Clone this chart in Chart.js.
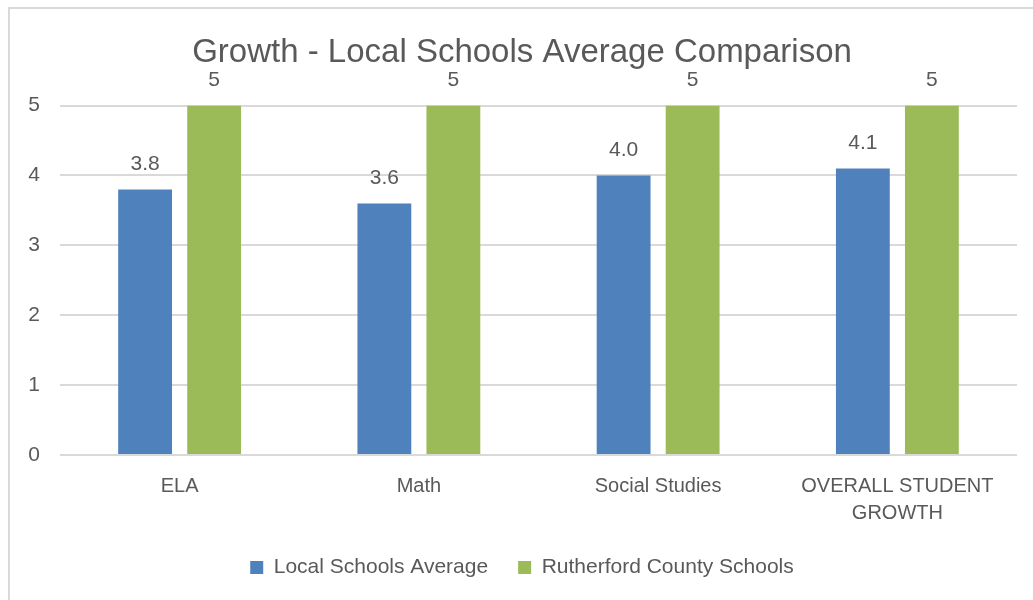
<!DOCTYPE html>
<html>
<head>
<meta charset="utf-8">
<script src="https://cdn.jsdelivr.net/npm/chart.js@4.4.1/dist/chart.umd.min.js"></script>
<style>
  html, body { margin: 0; padding: 0; background: #fff; overflow: hidden; }
  #frame { position: absolute; left: 8px; top: 7px; width: 1100px; height: 700px; border: 2px solid #d9d9d9; box-sizing: border-box; }
  #wrap { position: absolute; left: 0; top: 0; width: 1033px; height: 600px; }
</style>
</head>
<body>
<div id="frame"></div>
<div id="wrap"><canvas id="c" width="1033" height="600"></canvas></div>
<script>
const categories = ["ELA", "Math", "Social Studies", ["OVERALL STUDENT", "GROWTH"]];
const localSchoolsAverage = [3.8, 3.6, 4.0, 4.1];
const rutherfordCountySchools = [5, 5, 5, 5];
const yTicks = [0, 1, 2, 3, 4, 5];
const seriesNames = ["Local Schools Average", "Rutherford County Schools"];
const chartTitle = "Growth - Local Schools Average Comparison";

const FONT = "'Liberation Sans', Arial, sans-serif";
const TEXT = "#595959";

const dataLabels = {
  id: "dataLabels",
  afterDatasetsDraw(chart) {
    const ctx = chart.ctx;
    ctx.save();
    ctx.font = "21px " + FONT;
    ctx.fillStyle = TEXT;
    ctx.textAlign = "center";
    ctx.textBaseline = "middle";
    chart.data.datasets.forEach((ds, i) => {
      const meta = chart.getDatasetMeta(i);
      meta.data.forEach((bar, j) => {
        const v = ds.data[j];
        const txt = i === 0 ? v.toFixed(1) : String(v);
        ctx.fillText(txt, bar.x, bar.y - 25);
      });
    });
    ctx.restore();
  }
};

new Chart(document.getElementById("c"), {
  type: "bar",
  data: {
    labels: categories,
    datasets: [
      { label: seriesNames[0], data: localSchoolsAverage, backgroundColor: "#4F81BD",
        categoryPercentage: 0.577, barPercentage: 0.78 },
      { label: seriesNames[1], data: rutherfordCountySchools, backgroundColor: "#9BBB59",
        categoryPercentage: 0.577, barPercentage: 0.78 }
    ]
  },
  options: {
    responsive: false,
    animation: false,
    layout: { padding: { left: 27, right: 16, top: 0, bottom: 12 } },
    plugins: {
      title: {
        display: true, text: chartTitle, color: TEXT,
        font: { family: FONT, size: 33, weight: "normal", lineHeight: 1.2 },
        padding: { top: 33, bottom: 33 }
      },
      legend: {
        position: "bottom",
        labels: {
          color: TEXT, boxWidth: 13, boxHeight: 13, padding: 30,
          font: { family: FONT, size: 21 }
        }
      },
      tooltip: { enabled: false }
    },
    scales: {
      x: {
        grid: { display: false, drawTicks: false },
        border: { display: false },
        ticks: { color: TEXT, padding: 18, font: { family: FONT, size: 20, lineHeight: 1.35 }, maxRotation: 0, autoSkip: false },
        afterFit(scale) { scale.height = 72; }
      },
      y: {
        min: 0, max: 5,
        afterBuildTicks(scale) { scale.ticks = yTicks.map(v => ({ value: v })); },
        grid: { color: "#d9d9d9", lineWidth: 2, drawTicks: false },
        border: { display: false },
        ticks: { color: TEXT, padding: 20, font: { family: FONT, size: 21 } },
        afterFit(scale) { scale.width = 33; }
      }
    }
  },
  plugins: [dataLabels]
});
</script>
</body>
</html>
